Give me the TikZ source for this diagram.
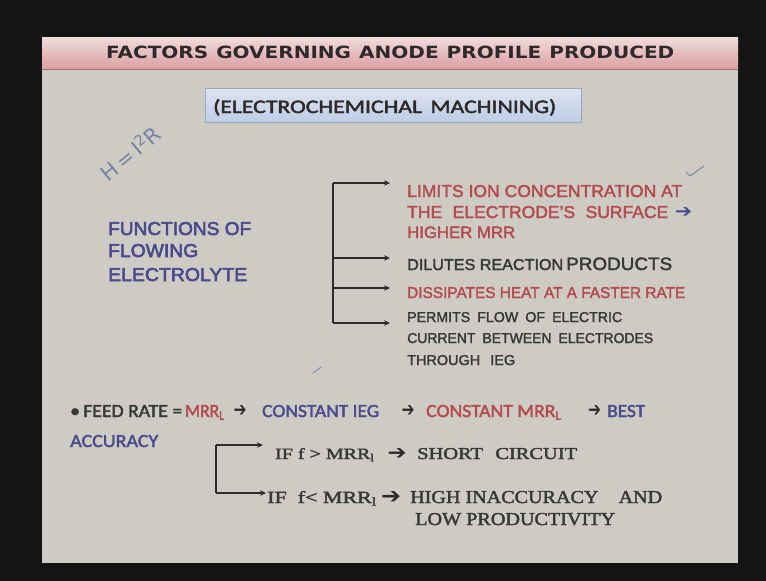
\documentclass[tikz,border=0pt]{standalone}
\usepackage{fontspec}
\setmainfont{Liberation Sans}[FakeBold=2]
\newfontfamily\boldsans{Liberation Sans}[FakeBold=3]
\newfontfamily\titlefont{DejaVu Sans}
\newfontfamily\calfont{Carlito}[FakeBold=2]
\newfontfamily\serfont{Liberation Serif}[FakeBold=2]
\newfontfamily\symfont{DejaVu Sans}
\newfontfamily\penfont{DejaVu Sans}
\usetikzlibrary{arrows.meta,shadings}
\definecolor{frame}{HTML}{141414}
\definecolor{slidebg}{HTML}{CDCBC4}
\definecolor{bandtop}{HTML}{F0DCDC}
\definecolor{bandmid}{HTML}{ECC9CB}
\definecolor{bandbot}{HTML}{DC9EA2}
\definecolor{boxtop}{HTML}{DCE4F0}
\definecolor{boxbot}{HTML}{BFCDE4}
\definecolor{boxedge}{HTML}{9AAAC2}
\definecolor{inkdark}{HTML}{2E2A2A}
\definecolor{inkgray}{HTML}{383838}
\definecolor{inkblue}{HTML}{4A4A8C}
\definecolor{inkred}{HTML}{B44A4E}
\definecolor{pen}{HTML}{7A84A0}
% place a text fitted to a given width and cap height, base west anchored
\newcommand\fittext[8]{%
  \node[anchor=base west,inner sep=0pt,text=#6,font=#7] (#1) at (#2,#3)
    {\resizebox{#4pt}{#5pt}{#8}};}
% heavy inline arrow glyph, centred
\newcommand\fitarrow[6]{%
  \node[inner sep=0pt,text=#6,font=\symfont] (#1) at (#2,#3)
    {\resizebox{#4pt}{#5pt}{➔}};}
\tikzset{
  branch/.style={draw=inkdark,line width=1.3pt,-{Stealth[length=6pt,width=5.5pt]}},
  trunk/.style={draw=inkdark,line width=1.3pt},
  penstroke/.style={draw=pen,line width=0.9pt,line cap=round,line join=round},
}
\begin{document}
\begin{tikzpicture}[x=1pt,y=-1pt]
\useasboundingbox (0,0) rectangle (766,581);
% screen frame and slide
\fill[frame] (0,0) rectangle (766,581);
\fill[slidebg] (42,37) rectangle (738,563);
% title band
\shade[top color=bandtop,middle color=bandmid,bottom color=bandbot] (42,37) rectangle (738,69);
\draw[color=bandbot!70!black,line width=0.8pt] (42,69) -- (738,69);
\fittext{title}{106}{58.5}{568}{12.5}{inkdark}{\titlefont\bfseries}{FACTORS\hspace{0.4em}GOVERNING\hspace{0.4em}ANODE\hspace{0.4em}PROFILE\hspace{0.4em}PRODUCED}
% subtitle box
\fill[black!25,opacity=0.5] (207,90) rectangle (583,124.5);
\shade[top color=boxtop,bottom color=boxbot,draw=boxedge] (205,88) rectangle (581,122);
\fittext{subtitle}{213}{113}{343}{14}{inkdark}{\calfont}{(ELECTROCHEMICHAL\hspace{0.35em}MACHINING)}
% handwritten note
\node[rotate=40,inner sep=0pt,text=pen,font={\penfont\fontsize{21}{21}\selectfont}] (note) at (130,153)
  {H\,=\,I\textsuperscript{2}R};
\draw[penstroke] (686,172) -- (690,176) -- (704,166);
\draw[penstroke] (313,373) -- (321,367);
% functions of flowing electrolyte
\fittext{fa}{108}{235}{143}{13}{inkblue}{\boldsans}{FUNCTIONS OF}
\fittext{fb}{108}{257}{90}{13}{inkblue}{\boldsans}{FLOWING}
\fittext{fc}{108}{281}{139}{13}{inkblue}{\boldsans}{ELECTROLYTE}
% bracket of functions
\coordinate (t1) at (333,183);
\coordinate (t2) at (333,258);
\coordinate (t3) at (333,288);
\coordinate (t4) at (333,323);
\coordinate (h1) at (390,183);
\coordinate (h2) at (390,258);
\coordinate (h3) at (390,288);
\coordinate (h4) at (390,323);
\draw[trunk] (t1) -- (t4);
\draw[branch] (t1) -- (h1);
\draw[branch] (t2) -- (h2);
\draw[branch] (t3) -- (h3);
\draw[branch] (t4) -- (h4);
\fittext{la}{407}{197}{275}{12}{inkred}{}{LIMITS ION CONCENTRATION AT}
\fittext{lb}{407}{218}{261}{12}{inkred}{}{THE\hspace{0.6em}ELECTRODE'S\hspace{0.6em}SURFACE}
\fitarrow{lbarr}{683.5}{212}{17}{10}{inkblue}
\fittext{lc}{407}{238}{108}{11.5}{inkred}{}{HIGHER MRR}
\fittext{da}{407}{270}{156}{11}{inkgray}{}{DILUTES REACTION}
\fittext{db}{566}{270}{106}{12.5}{inkgray}{}{PRODUCTS}
\fittext{ha}{407}{298}{278}{11}{inkred}{}{DISSIPATES HEAT AT A FASTER RATE}
\fittext{pa}{407}{322}{215}{10}{inkgray}{}{PERMITS\hspace{0.5em}FLOW\hspace{0.5em}OF\hspace{0.5em}ELECTRIC}
\fittext{pb}{407}{343}{246}{10}{inkgray}{}{CURRENT\hspace{0.5em}BETWEEN\hspace{0.5em}ELECTRODES}
\fittext{pc}{407}{365}{108}{10}{inkgray}{}{THROUGH\hspace{0.7em}IEG}
% feed rate statement
\fittext{fr}{70}{417}{112}{12}{inkgray}{\calfont}{\textbullet\,FEED RATE =}
\fittext{mrr}{185}{417}{40}{12}{inkred}{\calfont}{MRR\textsubscript{L}}
\fitarrow{fra}{240}{411}{13}{11}{inkdark}
\fittext{cieg}{262}{417}{117}{12}{inkblue}{\calfont}{CONSTANT IEG}
\fitarrow{frb}{408}{411}{13}{11}{inkdark}
\fittext{cmrr}{426}{417}{136}{12}{inkred}{\calfont}{CONSTANT MRR\textsubscript{L}}
\fitarrow{frc}{594.5}{411}{13}{11}{inkdark}
\fittext{best}{607}{417}{38}{12}{inkblue}{\calfont}{BEST}
\fittext{acc}{70}{447}{88}{12}{inkblue}{\calfont}{ACCURACY}
% feed rate cases
\coordinate (c1) at (216,445);
\coordinate (c2) at (216,493);
\coordinate (d1) at (263,445);
\coordinate (d2) at (266,493);
\draw[trunk] (c1) -- (c2);
\draw[branch] (c1) -- (d1);
\draw[branch] (c2) -- (d2);
\fittext{ca}{275}{459}{100}{11}{inkgray}{\serfont}{IF f > MRR\textsubscript{l}}
\fitarrow{caa}{397}{454}{19}{11}{inkdark}
\fittext{cb}{417}{459}{160}{11}{inkgray}{\serfont}{SHORT\hspace{0.6em}CIRCUIT}
\fittext{cc}{267}{503}{110}{12}{inkgray}{\serfont}{IF\hspace{0.5em}f< MRR\textsubscript{l}}
\fitarrow{cca}{391}{497}{20}{12}{inkdark}
\fittext{cd}{410}{503}{252}{12}{inkgray}{\serfont}{HIGH INACCURACY\hspace{1em}AND}
\fittext{ce}{415}{525}{200}{12}{inkgray}{\serfont}{LOW PRODUCTIVITY}
\end{tikzpicture}
\end{document}
